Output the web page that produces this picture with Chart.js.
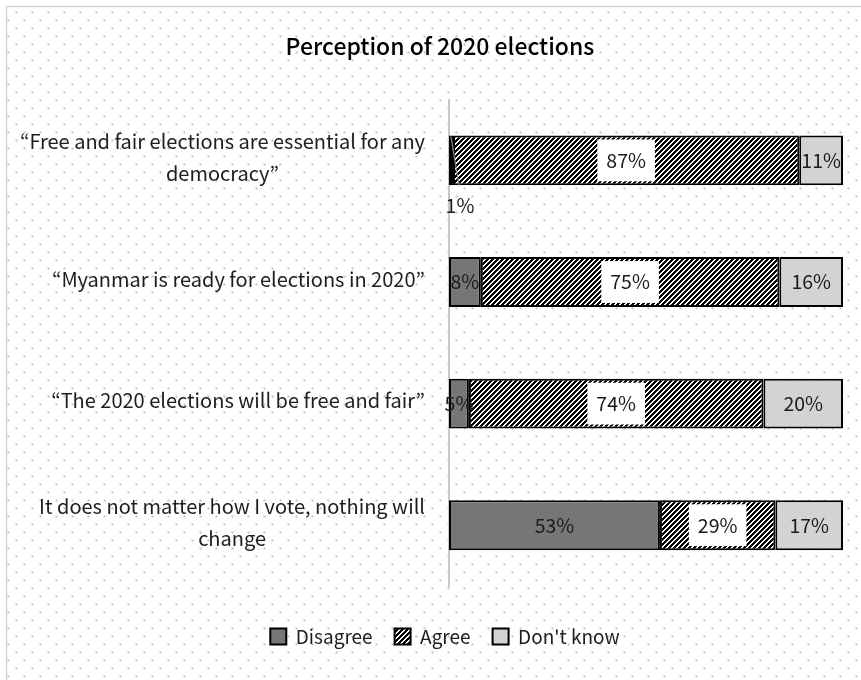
<!DOCTYPE html>
<html>
<head>
<meta charset="utf-8">
<title>Perception of 2020 elections</title>
<script src="https://cdn.jsdelivr.net/npm/chart.js@4.4.1/dist/chart.umd.min.js"></script>
<style>
  html, body { margin: 0; padding: 0; background: #fff; }
  #wrap { width: 861px; height: 680px; }
</style>
</head>
<body>
<div id="wrap"><canvas id="electionsChart" width="861" height="680"></canvas></div>
<script>
// statements, one array per wrapped line
const categories = [
  ["“Free and fair elections are essential for any", "democracy”"],
  ["“Myanmar is ready for elections in 2020”"],
  ["“The 2020 elections will be free and fair”"],
  ["It does not matter how I vote, nothing will", "change"]
];
const seriesNames = ["Disagree", "Agree", "Don't know"];
const disagree = [1, 8, 5, 53];
const agree = [87, 75, 74, 29];
const dontKnow = [11, 16, 20, 17];

const FONT = '"Noto Sans CJK JP", "Noto Sans", sans-serif';
Chart.defaults.font.family = FONT;

// black "/" stripes on white for the Agree bars
function hatchPattern() {
  const n = 5;
  const c = document.createElement("canvas");
  c.width = n; c.height = n;
  const g = c.getContext("2d");
  g.fillStyle = "#fff";
  g.fillRect(0, 0, n, n);
  g.fillStyle = "#000";
  for (let y = 0; y < n; y++) {
    for (let x = 0; x < n; x++) {
      if ((x + y) % n < 3) g.fillRect(x, y, 1, 1);
    }
  }
  return g.createPattern(c, "repeat");
}

// white page, dotted chart background and the thin frame
const dottedBackground = {
  id: "dottedBackground",
  beforeDraw(chart) {
    const { ctx, width, height } = chart;
    ctx.save();
    ctx.fillStyle = "#fff";
    ctx.fillRect(0, 0, width, height);
    ctx.fillStyle = "#c2c2c2";
    for (let y = 12; y < height; y += 8) {
      const off = (y % 16 === 12) ? 0 : 8;
      for (let x = off; x < width; x += 16) {
        if (x < 8) continue;
        ctx.fillRect(x - 0.5, y - 0.5, 2, 2);
      }
    }
    ctx.strokeStyle = "#d4d4d4";
    ctx.lineWidth = 1.5;
    ctx.beginPath();
    ctx.moveTo(6.5, height);
    ctx.lineTo(6.5, 6.5);
    ctx.lineTo(width, 6.5);
    ctx.stroke();
    ctx.restore();
  }
};

// nudge the legend a little to the right of the plot centre
const legendNudge = {
  id: "legendNudge",
  afterLayout(chart) {
    if (chart.legend) {
      chart.legend.left += 5;
      chart.legend.right += 5;
    }
  }
};

// statement labels: block right-aligned to the axis, lines centred in the block
const categoryLabels = {
  id: "categoryLabels",
  afterDraw(chart) {
    const { ctx, chartArea } = chart;
    const yScale = chart.scales.y;
    const lineH = 32;
    ctx.save();
    ctx.font = "20px " + FONT;
    ctx.fillStyle = "#1e1e1e";
    ctx.textAlign = "center";
    ctx.textBaseline = "middle";
    chart.data.labels.forEach((lines, i) => {
      const y = yScale.getPixelForValue(i) - 3;
      const maxW = Math.max(...lines.map(l => ctx.measureText(l).width));
      const cx = chartArea.left - 24 - maxW / 2;
      lines.forEach((l, j) => {
        ctx.fillText(l, cx, y + (j - (lines.length - 1) / 2) * lineH);
      });
    });
    ctx.restore();
  }
};

// percentage labels inside the segments
const valueLabels = {
  id: "valueLabels",
  afterDatasetsDraw(chart) {
    const ctx = chart.ctx;
    ctx.save();
    ctx.font = "19.5px " + FONT;
    ctx.textAlign = "center";
    ctx.textBaseline = "middle";
    chart.data.datasets.forEach((ds, di) => {
      chart.getDatasetMeta(di).data.forEach((bar, i) => {
        const txt = ds.data[i] + "%";
        const left = Math.min(bar.x, bar.base);
        const right = Math.max(bar.x, bar.base);
        const top = bar.y - bar.height / 2;
        const bottom = bar.y + bar.height / 2;
        let x = (left + right) / 2;
        let y = bar.y;
        if (right - left < 8) {
          // too thin: put the label under the bar with a leader line
          const lx = x + 9;
          ctx.strokeStyle = "#8c8c8c";
          ctx.lineWidth = 1.2;
          ctx.beginPath();
          ctx.moveTo(x, top + 1);
          ctx.lineTo(lx - 1, bottom);
          ctx.stroke();
          x = lx;
          y = bottom + 20;
        }
        if (di === 1) {
          const w = ctx.measureText(txt).width + 18;
          ctx.fillStyle = "#fff";
          ctx.fillRect(x - w / 2, top + 4, w, bar.height - 8);
        }
        ctx.fillStyle = "#1a1a1a";
        ctx.fillText(txt, x, y);
      });
    });
    ctx.restore();
  }
};

const ctx = document.getElementById("electionsChart");
new Chart(ctx, {
  type: "bar",
  data: {
    labels: categories,
    datasets: [
      { label: seriesNames[0], data: disagree, backgroundColor: "#767676" },
      { label: seriesNames[1], data: agree, backgroundColor: hatchPattern() },
      { label: seriesNames[2], data: dontKnow, backgroundColor: "#d3d3d3" }
    ].map(d => Object.assign(d, {
      borderColor: "#000",
      borderWidth: 2,
      borderSkipped: false,
      barPercentage: 0.41,
      categoryPercentage: 1
    }))
  },
  options: {
    indexAxis: "y",
    responsive: false,
    animation: false,
    devicePixelRatio: 1,
    layout: { padding: { left: 33, right: 14, top: 0, bottom: 24 } },
    scales: {
      x: {
        stacked: true,
        min: 0,
        max: 100,
        grid: { display: false },
        border: { display: false },
        ticks: { display: false },
        afterFit: s => { s.height = 19; }
      },
      y: {
        stacked: true,
        grid: { display: false },
        border: { display: true, color: "#c8c8c8", width: 2 },
        ticks: { display: false },
        afterFit: s => { s.width = 416; }
      }
    },
    plugins: {
      title: {
        display: true,
        text: "Perception of 2020 elections",
        color: "#000",
        font: { size: 23, weight: 500 },
        padding: { top: 32, bottom: 40 }
      },
      legend: {
        position: "bottom",
        labels: {
          color: "#1e1e1e",
          font: { size: 19 },
          boxWidth: 16,
          boxHeight: 16,
          padding: 22
        }
      },
      tooltip: { enabled: false }
    }
  },
  plugins: [dottedBackground, legendNudge, categoryLabels, valueLabels]
});
</script>
</body>
</html>
